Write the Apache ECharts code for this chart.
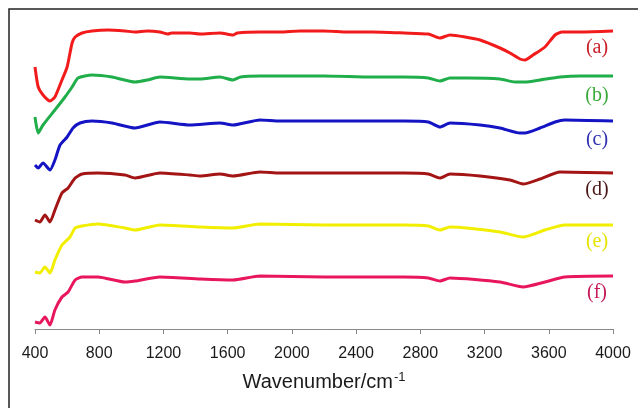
<!DOCTYPE html>
<html>
<head>
<meta charset="utf-8">
<script src="https://cdn.jsdelivr.net/npm/echarts@6/dist/echarts.min.js"></script>
<style>
  html, body { margin: 0; padding: 0; background: #fff; }
  #main { width: 638px; height: 408px; }
</style>
</head>
<body>
<div id="main"></div>
<script>
// x ticks
var xTicks = [400, 800, 1200, 1600, 2000, 2400, 2800, 3200, 3600, 4000];
var labels = ['(a)', '(b)', '(c)', '(d)', '(e)', '(f)'];

// spectra, [wavenumber, offset transmittance (arb.)]
var specA = [[400,262],[420,242],[450,234],[493,228],[524,232],[568,249],[600,262],[631,286],[650,292],[693,296],[755,298],[855,299],[960,298],[1023,297],[1100,298],[1178,297],[1228,295],[1250,296],[1365,296],[1428,295],[1552,296],[1633,294],[1660,296],[1801,297],[1926,297],[2050,298],[2200,298],[2350,297],[2500,297],[2700,296],[2850,295],[2922,291],[2985,294],[3080,292],[3172,289],[3296,281],[3358,276],[3421,270],[3452,269],[3502,274],[3576,282],[3639,294],[3683,297],[3800,297],[4000,298]];
var specB = [[400,212],[420,196],[450,204],[524,219],[587,232],[631,242],[668,251],[755,254],[880,252],[1023,247],[1100,249],[1178,252],[1365,250],[1428,250],[1552,252],[1633,249],[1680,252],[1801,253],[2000,253],[2200,253],[2500,252],[2700,252],[2850,251],[2922,248],[2985,251],[3100,251],[3296,250],[3390,247],[3452,247],[3545,249],[3670,252],[3800,253],[4000,253]];
var specC = [[400,164],[420,161],[450,166],[493,159],[524,169],[556,184],[600,192],[637,201],[680,206],[755,208],[880,206],[1023,201],[1178,207],[1365,204],[1552,206],[1633,204],[1801,209],[1926,208],[2200,208],[2500,208],[2700,208],[2850,207],[2922,202],[2985,206],[3172,204],[3296,201],[3421,196],[3452,196],[3545,201],[3639,207],[3700,209],[4000,208]];
var specD = [[400,109],[430,107],[462,114],[493,107],[524,119],[568,136],[606,141],[650,151],[693,155],[792,156],[960,154],[1023,151],[1178,156],[1365,154],[1428,153],[1552,155],[1633,153],[1801,157],[1926,156],[2200,156],[2500,156],[2700,156],[2850,155],[2922,151],[2985,155],[3172,153],[3358,149],[3440,145],[3545,150],[3670,157],[4000,156]];
var specE = [[400,57],[430,56],[462,62],[493,56],[524,69],[568,84],[618,92],[650,101],[693,103],[792,105],[960,101],[1023,99],[1178,104],[1428,102],[1633,101],[1801,105],[2200,104],[2500,104],[2700,104],[2850,103],[2922,99],[2985,102],[3296,97],[3440,92],[3576,99],[3700,104],[4000,104]];
var specF = [[400,7],[430,6],[462,12],[493,4],[524,19],[568,32],[606,37],[650,49],[693,52],[792,52],[960,47],[1023,48],[1178,52],[1428,50],[1633,49],[1801,53],[2200,52],[2500,52],[2700,52],[2850,51],[2922,48],[2985,51],[3296,47],[3440,42],[3576,47],[3700,52],[4000,53]];

var lineColors = ['#f21b1b', '#1fae4a', '#1414c4', '#a31515', '#f2ee00', '#e8175d'];
var labelColors = ['#c8202a', '#3aa83a', '#3030b0', '#4a1515', '#e4e400', '#c41858'];
var labelY = [48, 96, 140, 190, 242, 293];

var chart = echarts.init(document.getElementById('main'));

var series = [specA, specB, specC, specD, specE, specF].map(function (d, i) {
  return {
    type: 'line',
    data: d,
    smooth: 0.2,
    symbol: 'none',
    lineStyle: { color: lineColors[i], width: 3 }
  };
});

var graphics = [{
  type: 'rect',
  shape: { x: 9, y: 9, width: 660, height: 440 },
  style: { fill: null, stroke: '#222', lineWidth: 1.5 },
  silent: true
}];
labels.forEach(function (t, i) {
  graphics.push({
    type: 'text',
    x: 597, y: labelY[i],
    style: {
      text: t,
      fill: labelColors[i],
      font: '20px "Liberation Serif", "DejaVu Serif", serif',
      align: 'center',
      verticalAlign: 'middle'
    }
  });
});

chart.setOption({
  animation: false,
  backgroundColor: '#fff',
  grid: { left: 35, right: 25, top: 9, bottom: 79 },
  xAxis: {
    type: 'value',
    min: 400,
    max: 4000,
    interval: 400,
    axisLine: { lineStyle: { color: '#8a8a8a', width: 1 } },
    axisTick: { show: true, length: 5, lineStyle: { color: '#8a8a8a' } },
    splitLine: { show: false },
    axisLabel: {
      color: '#1a1a1a',
      fontSize: 16,
      fontFamily: '"Liberation Sans", Arial, sans-serif',
      margin: 17,
      formatter: function (v) { return xTicks.indexOf(v) >= 0 ? String(v) : ''; }
    },
    name: '{a|Wavenumber/cm}{s|-1}',
    nameLocation: 'middle',
    nameGap: 42,
    nameTextStyle: {
      rich: {
        a: { fontSize: 20, color: '#1a1a1a', fontFamily: '"Liberation Sans", Arial, sans-serif' },
        s: { fontSize: 13, color: '#1a1a1a', fontFamily: '"Liberation Sans", Arial, sans-serif', padding: [0, 0, 10, 1] }
      }
    }
  },
  yAxis: {
    type: 'value',
    min: 0,
    max: 320,
    show: false
  },
  series: series,
  graphic: graphics
});
</script>
</body>
</html>
